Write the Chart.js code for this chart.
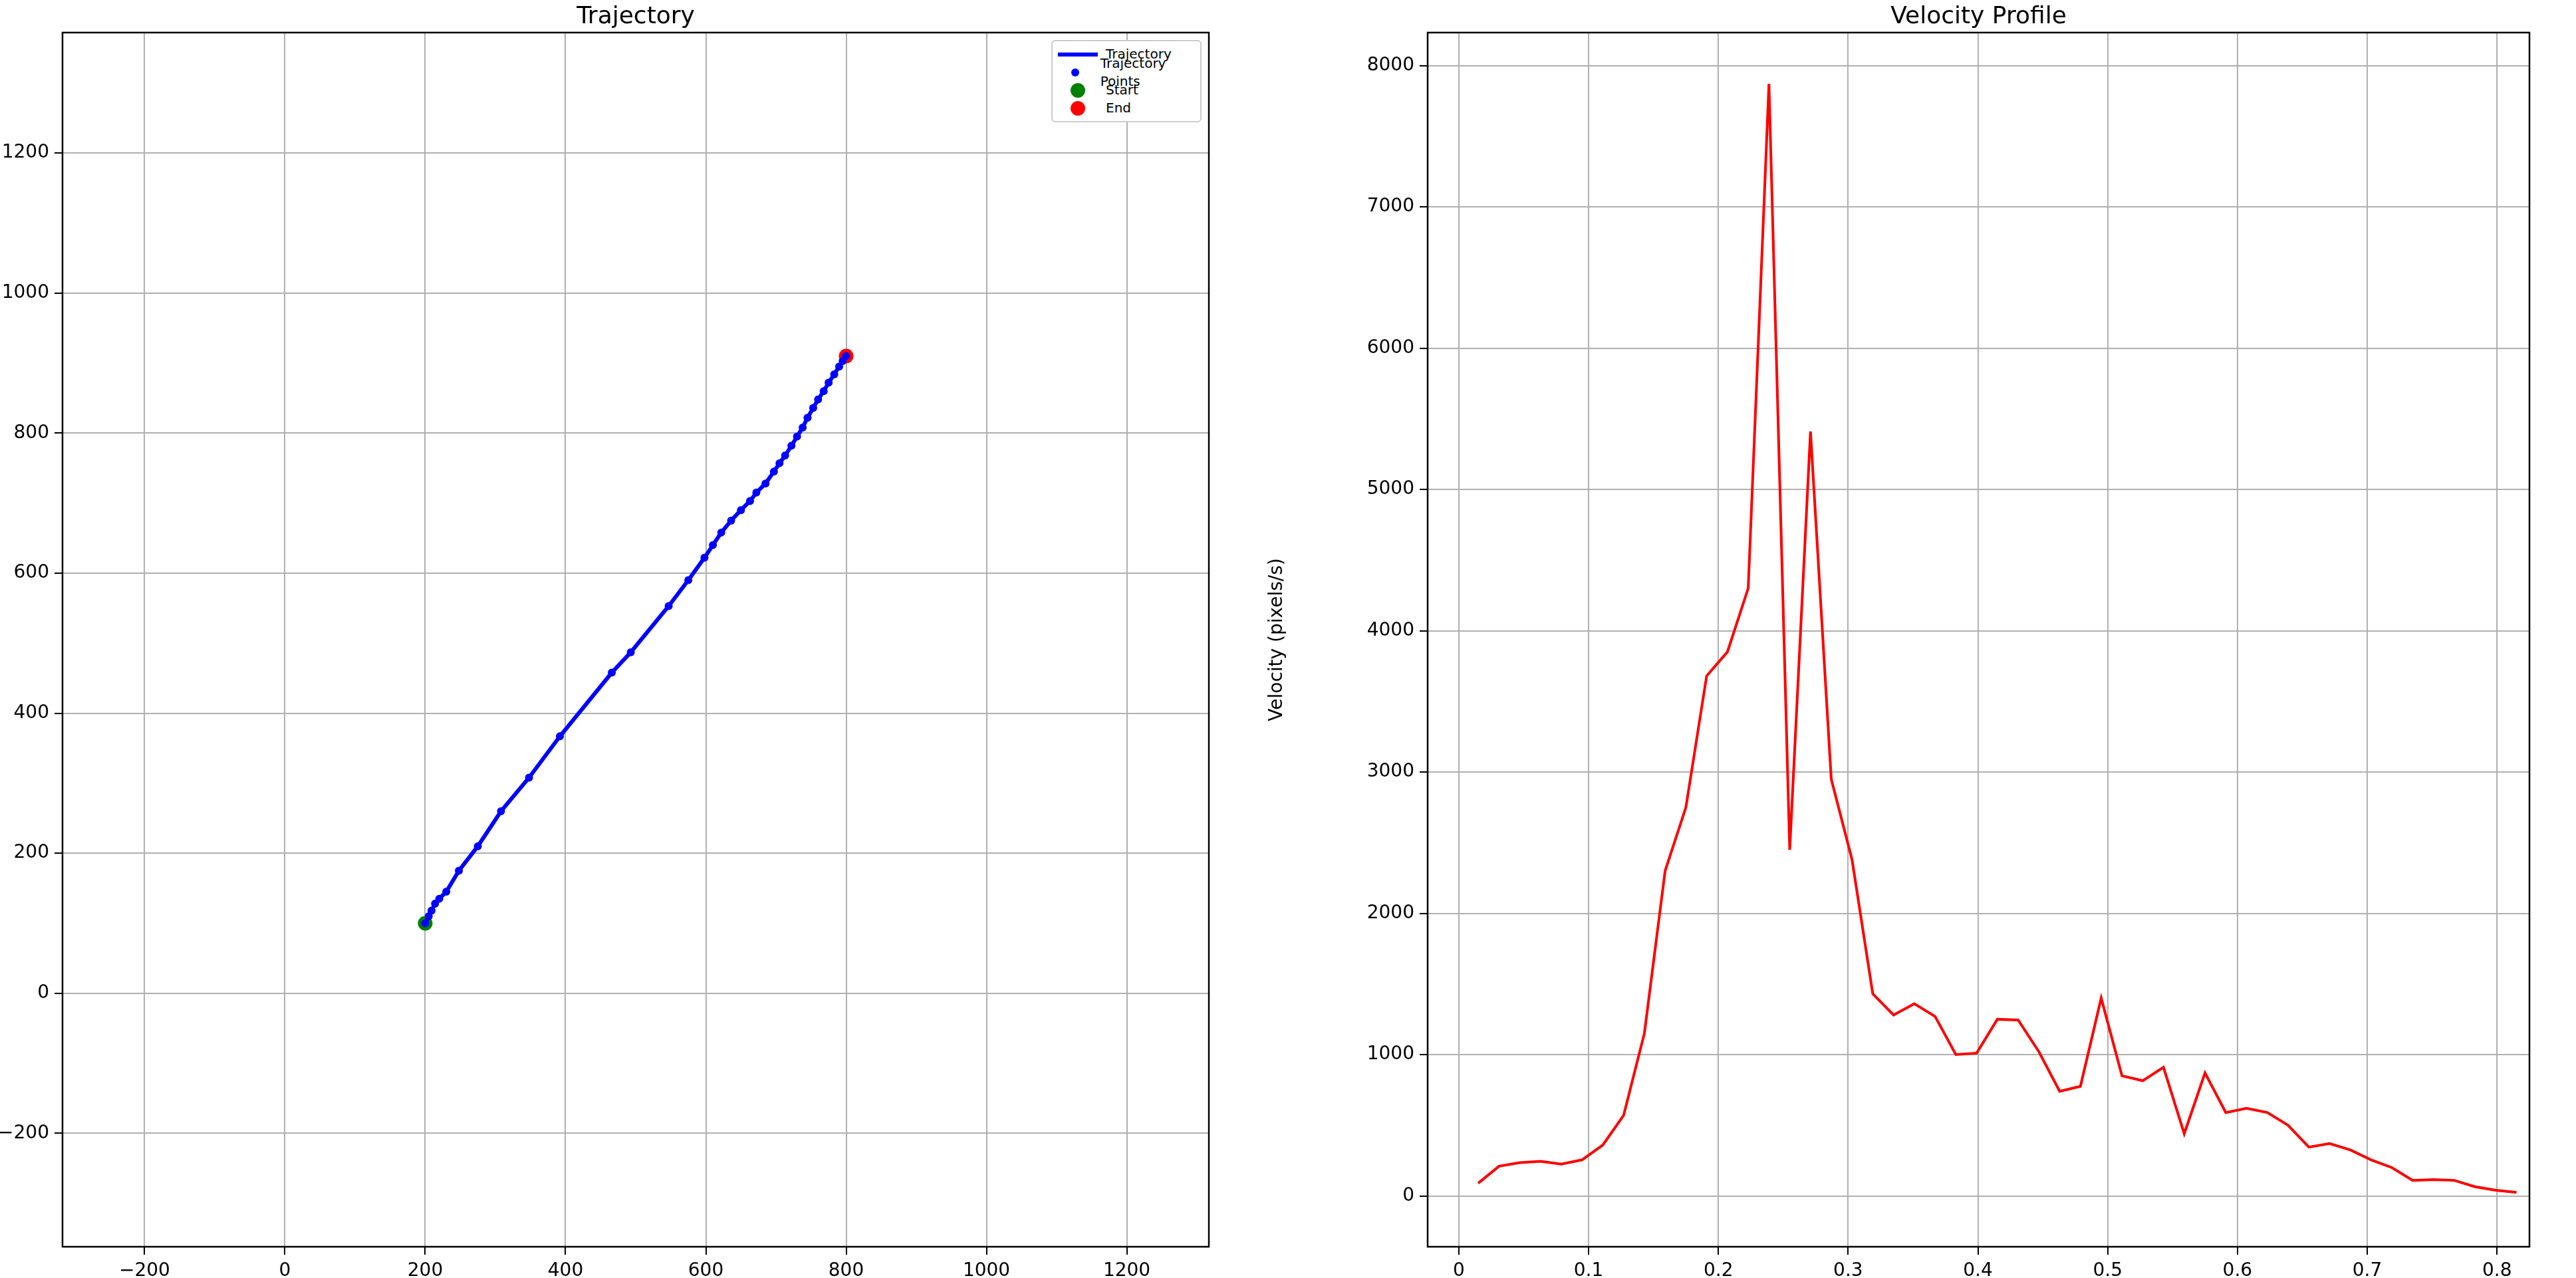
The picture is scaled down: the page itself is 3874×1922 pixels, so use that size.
<!DOCTYPE html>
<html>
<head>
<meta charset="utf-8">
<script src="https://cdn.jsdelivr.net/npm/chart.js@4.4.0/dist/chart.umd.min.js"></script>
<style>
  body { margin:0; background:#fff; width:3874px; height:1922px; overflow:hidden; font-family:"DejaVu Sans", sans-serif; }
  .box { position:absolute; top:0; height:1922px; }
  .titulo { position:absolute; top:2px; font-size:36px; color:#000; text-align:center; }
  #legenda { position:absolute; left:1581px; top:60px; width:226px; border:2px solid #ccc; border-radius:6px; background:#fff; font-size:20px; padding:6px 8px; box-sizing:border-box; }
  #legenda div { height:27px; line-height:27px; display:flex; align-items:center; }
  #legenda span.m { width:60px; display:inline-flex; justify-content:center; margin-right:12px; }
</style>
</head>
<body>
<div class="box" style="left:0;width:1870px"><canvas id="graficoTraj"></canvas></div>
<div class="box" style="left:1900px;width:1974px"><canvas id="graficoVel"></canvas></div>
<div class="titulo" style="left:94px;width:1724px">Trajectory</div>
<div class="titulo" style="left:2147px;width:1657px">Velocity Profile</div>
<div id="legenda">
  <div><span class="m"><span style="display:inline-block;width:60px;height:6px;background:#0000ff"></span></span>Trajectory</div>
  <div><span class="m"><span style="display:inline-block;width:12px;height:12px;border-radius:50%;background:#0000ff"></span></span>Trajectory Points</div>
  <div><span class="m"><span style="display:inline-block;width:22px;height:22px;border-radius:50%;background:#008000"></span></span>Start</div>
  <div><span class="m"><span style="display:inline-block;width:22px;height:22px;border-radius:50%;background:#ff0000"></span></span>End</div>
</div>
<script>
// ======= Dados =======
const trajX = [200,205,209,214,220,230,248,275,308,348,392,466,493,547,575,598,610,622,636,650,663,672,685,697,705,713,722,730,738,745,753,760,768,775,783,790,795,800];
const trajY = [100,110,118,128,135,145,175,210,260,308,367,458,487,553,590,622,640,658,675,690,703,715,728,745,757,768,782,795,808,822,836,848,860,872,884,895,903,910];
const tempo = [0.015,0.031,0.047,0.063,0.079,0.095,0.111,0.127,0.143,0.159,0.175,0.191,0.207,0.223,0.239,0.255,0.271,0.287,0.303,0.319,0.335,0.351,0.367,0.383,0.399,0.415,0.431,0.447,0.463,0.479,0.495,0.511,0.527,0.543,0.559,0.575,0.591,0.607,0.623,0.639,0.655,0.671,0.687,0.703,0.719,0.735,0.751,0.767,0.783,0.799,0.815];
const velocidade = [90,210,235,245,225,255,360,570,1150,2300,2750,3680,3850,4300,7870,2450,5410,2950,2380,1430,1280,1360,1270,1000,1010,1250,1245,1020,740,775,1400,850,815,910,440,870,590,620,590,500,345,370,325,255,200,110,115,110,65,40,25];
const ticksTrajX = [-200,0,200,400,600,800,1000,1200];
const ticksTrajY = [-200,0,200,400,600,800,1000,1200];
const ticksTempo = [0,0.1,0.2,0.3,0.4,0.5,0.6,0.7,0.8];
const ticksVel = [0,1000,2000,3000,4000,5000,6000,7000,8000];

const fonte = { family:'DejaVu Sans', size:28 };
const grade = { color:'#b0b0b0', lineWidth:2, tickLength:12, tickColor:'#000', drawTicks:true };

// moldura preta em volta da área
const moldura = {
  id:'moldura',
  afterDraw(chart){
    const a = chart.chartArea, c = chart.ctx;
    c.save(); c.strokeStyle = '#000'; c.lineWidth = 2.5;
    c.strokeRect(a.left, a.top, a.right - a.left, a.bottom - a.top);
    c.restore();
  }
};

function eixo(min, max, ticks, tam, extra){
  return Object.assign({
    type:'linear', min, max,
    grid: grade, border:{ display:false },
    ticks:{ font:fonte, color:'#000', padding:8, callback: v => {
      const s = String(v); return s.startsWith('-') ? '\u2212' + s.slice(1) : s; } },
    afterBuildTicks: s => { s.ticks = ticks.map(v => ({ value:v })); },
    afterFit: s => { if (s.isHorizontal()) s.height = tam; else s.width = tam; }
  }, extra || {});
}

const pts = trajX.map((x,i) => ({ x, y: trajY[i] }));

// ======= Gráfico da trajetória =======
new Chart(document.getElementById('graficoTraj'), {
  type:'scatter',
  data:{ datasets:[
    { data: pts, showLine:true, borderColor:'#0000ff', borderWidth:6, pointRadius:0 },
    { data: pts, backgroundColor:'#0000ff', borderWidth:0, pointRadius:6 },
    { data: [pts[0]], backgroundColor:'#008000', borderWidth:0, pointRadius:11 },
    { data: [pts[pts.length-1]], backgroundColor:'#ff0000', borderWidth:0, pointRadius:11 }
  ]},
  options:{
    responsive:true, maintainAspectRatio:false, animation:false,
    layout:{ padding:{ top:49, right:52, left:0, bottom:0 } },
    plugins:{ legend:{ display:false }, tooltip:{ enabled:false } },
    scales:{
      x: eixo(-317, 1317, ticksTrajX, 47),
      y: eixo(-362, 1372, ticksTrajY, 94)
    }
  },
  plugins:[moldura]
});

// ======= Gráfico de velocidade =======
new Chart(document.getElementById('graficoVel'), {
  type:'scatter',
  data:{ datasets:[
    { data: tempo.map((t,i) => ({ x:t, y: velocidade[i] })), showLine:true, borderColor:'#ff0000', borderWidth:4, pointRadius:0 }
  ]},
  options:{
    responsive:true, maintainAspectRatio:false, animation:false,
    layout:{ padding:{ top:49, right:70, left:0, bottom:0 } },
    plugins:{ legend:{ display:false }, tooltip:{ enabled:false } },
    scales:{
      x: eixo(-0.024, 0.825, ticksTempo, 47),
      y: eixo(-360, 8233, ticksVel, 247, { title:{ display:true, text:'Velocity (pixels/s)', font:fonte, color:'#000', padding:{ bottom:14 } } })
    }
  },
  plugins:[moldura]
});
</script>
</body>
</html>
